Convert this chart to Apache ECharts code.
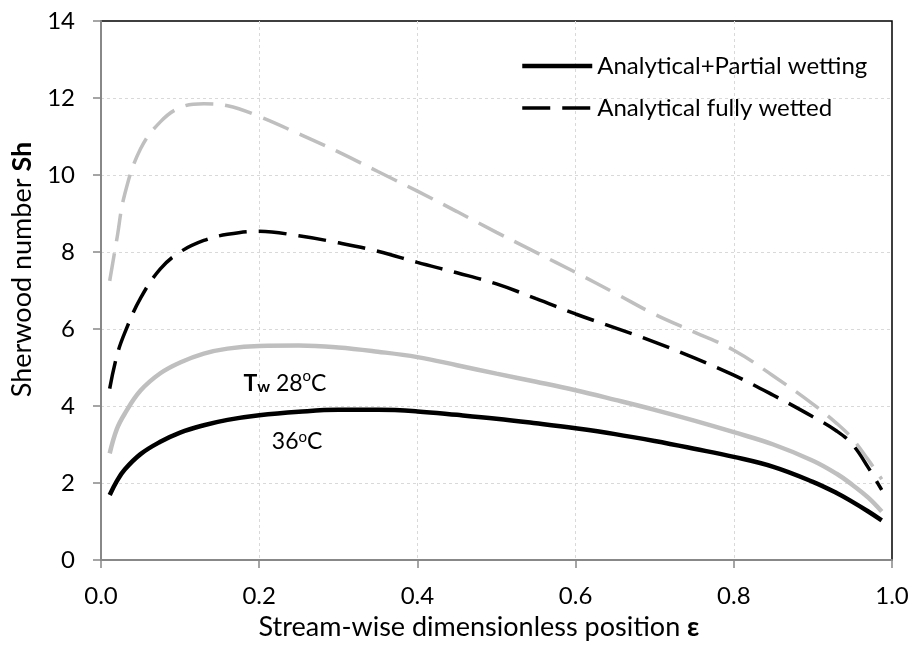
<!DOCTYPE html>
<html>
<head>
<meta charset="utf-8">
<title>Sherwood number</title>
<script src="https://cdn.jsdelivr.net/npm/echarts@6/dist/echarts.min.js"></script>
<style>
  html, body { margin: 0; padding: 0; background: #fff; }
  #main { width: 913px; height: 646px; }
</style>
</head>
<body>
<div id="main"></div>
<script type="text/javascript">
    // stream-wise position (epsilon)
    var xPos = [0.011, 0.02, 0.03, 0.05, 0.075, 0.1, 0.13, 0.16, 0.2, 0.25, 0.3, 0.35, 0.4, 0.45,
        0.5, 0.55, 0.6, 0.65, 0.7, 0.75, 0.8, 0.85, 0.9, 0.93, 0.95, 0.97, 0.987];

    // Analytical + partial wetting
    var partial36 = [1.69, 2.05, 2.35, 2.75, 3.07, 3.31, 3.50, 3.64, 3.76, 3.85, 3.90, 3.90, 3.86, 3.77,
        3.67, 3.55, 3.42, 3.27, 3.09, 2.89, 2.68, 2.42, 2.03, 1.74, 1.51, 1.26, 1.03];
    var partial28 = [2.77, 3.40, 3.80, 4.40, 4.85, 5.13, 5.36, 5.49, 5.56, 5.57, 5.52, 5.41, 5.27, 5.06,
        4.84, 4.63, 4.41, 4.16, 3.90, 3.62, 3.32, 3.00, 2.58, 2.24, 1.95, 1.62, 1.26];

    // Analytical fully wetted
    var full36 = [4.45, 5.30, 5.90, 6.80, 7.56, 8.00, 8.30, 8.46, 8.54, 8.42, 8.24, 8.02, 7.73, 7.46,
        7.17, 6.79, 6.39, 6.03, 5.66, 5.25, 4.80, 4.28, 3.72, 3.35, 3.00, 2.40, 1.82];
    var full28 = [7.25, 8.33, 9.50, 10.68, 11.38, 11.75, 11.85, 11.80, 11.52, 11.07, 10.60, 10.09, 9.58, 9.05,
        8.51, 7.99, 7.47, 6.93, 6.38, 5.92, 5.45, 4.78, 4.05, 3.55, 3.15, 2.60, 2.10];

    var xTicks = ['0.0', '0.2', '0.4', '0.6', '0.8', '1.0'];

    function pairs(ys) {
        var out = [];
        for (var i = 0; i < xPos.length; i++) {
            out.push([xPos[i], ys[i]]);
        }
        return out;
    }

    var font = 'Lato, "Open Sans", sans-serif';
    var myChart = echarts.init(document.getElementById('main'));

    var titleRich = {
        n: { fontSize: 27, color: '#000', fontFamily: font },
        b: { fontSize: 27, color: '#000', fontWeight: 'bold', fontFamily: font }
    };

    var option = {
        animation: false,
        textStyle: { fontFamily: font },
        grid: {
            left: 101, right: 21, top: 21, bottom: 84,
            show: true, borderColor: '#000', borderWidth: 1.5
        },
        legend: {
            data: [
                { name: 'Analytical+Partial wetting', lineStyle: { width: 4.5 } },
                { name: 'Analytical fully wetted', lineStyle: { width: 3.5 } }
            ],
            orient: 'vertical',
            left: 515, top: 49,
            itemWidth: 70, itemHeight: 14, itemGap: 18,
            itemStyle: { opacity: 0 },
            textStyle: { fontSize: 24, color: '#000', fontFamily: font }
        },
        xAxis: {
            type: 'value',
            min: 0, max: 1, interval: 0.2,
            name: '{n|Stream-wise dimensionless position }{b|ε}',
            nameLocation: 'middle',
            nameGap: 54,
            nameTextStyle: { padding: [0, 35, 0, 0], rich: titleRich },
            axisLine: { show: true, onZero: false, lineStyle: { color: '#888', width: 2 } },
            axisTick: { show: true, inside: false, length: 8, lineStyle: { color: '#888', width: 1.5 } },
            axisLabel: {
                fontSize: 24, color: '#000', margin: 24,
                formatter: function (v) { return xTicks[Math.round(v / 0.2)]; }
            },
            splitLine: { show: true, showMaxLine: false, lineStyle: { color: '#d9d9d9', type: [3, 3], width: 1 } }
        },
        yAxis: {
            type: 'value',
            min: 0, max: 14, interval: 2,
            name: '{n|Sherwood number }{b|Sh}',
            nameLocation: 'middle',
            nameGap: 60,
            nameTextStyle: { padding: [0, 0, 0, 42], rich: titleRich },
            axisLine: { show: true, onZero: false, lineStyle: { color: '#888', width: 2 } },
            axisTick: { show: true, inside: false, length: 8, lineStyle: { color: '#888', width: 1.5 } },
            axisLabel: { fontSize: 24, color: '#000', margin: 26 },
            splitLine: { show: true, showMaxLine: false, lineStyle: { color: '#d9d9d9', type: [3, 3], width: 1 } }
        },
        series: [
            {
                name: 'fully wetted 28',
                type: 'line', smooth: 0.4, symbol: 'none',
                data: pairs(full28),
                lineStyle: { color: '#bfbfbf', width: 3.5, type: [28, 12] },
                itemStyle: { color: '#bfbfbf' }
            },
            {
                name: 'Analytical fully wetted',
                type: 'line', smooth: 0.4, symbol: 'none',
                data: pairs(full36),
                lineStyle: { color: '#000', width: 3.5, type: [28, 12] },
                itemStyle: { color: '#000' }
            },
            {
                name: 'partial 28',
                type: 'line', smooth: 0.4, symbol: 'none',
                data: pairs(partial28),
                lineStyle: { color: '#bfbfbf', width: 4.5 },
                itemStyle: { color: '#bfbfbf' }
            },
            {
                name: 'Analytical+Partial wetting',
                type: 'line', smooth: 0.4, symbol: 'none',
                data: pairs(partial36),
                lineStyle: { color: '#000', width: 4.5 },
                itemStyle: { color: '#000' }
            }
        ]
    };

    myChart.setOption(option);

    // temperature labels placed in data coordinates
    var p28 = myChart.convertToPixel({ gridIndex: 0 }, [0.18, 4.63]);
    var p36 = myChart.convertToPixel({ gridIndex: 0 }, [0.216, 3.08]);
    myChart.setOption({
        graphic: [
            {
                type: 'text', x: p28[0], y: p28[1],
                style: {
                    text: '{t|T}{w|w}{n| 28}{o|o}{n|C}',
                    textVerticalAlign: 'middle',
                    rich: {
                        t: { fontSize: 23, fontWeight: 'bold', fill: '#000', fontFamily: font, verticalAlign: 'bottom' },
                        w: { fontSize: 16, fontWeight: 'bold', fill: '#000', fontFamily: font, verticalAlign: 'bottom', padding: [10, 0, 0, 0] },
                        n: { fontSize: 23, fill: '#000', fontFamily: font, verticalAlign: 'bottom' },
                        o: { fontSize: 15, fill: '#000', fontFamily: font, verticalAlign: 'top' }
                    }
                }
            },
            {
                type: 'text', x: p36[0], y: p36[1],
                style: {
                    text: '{n|36}{o|o}{n|C}',
                    textVerticalAlign: 'middle',
                    rich: {
                        n: { fontSize: 23, fill: '#000', fontFamily: font, verticalAlign: 'bottom' },
                        o: { fontSize: 15, fill: '#000', fontFamily: font, verticalAlign: 'top' }
                    }
                }
            }
        ]
    });
</script>
</body>
</html>
